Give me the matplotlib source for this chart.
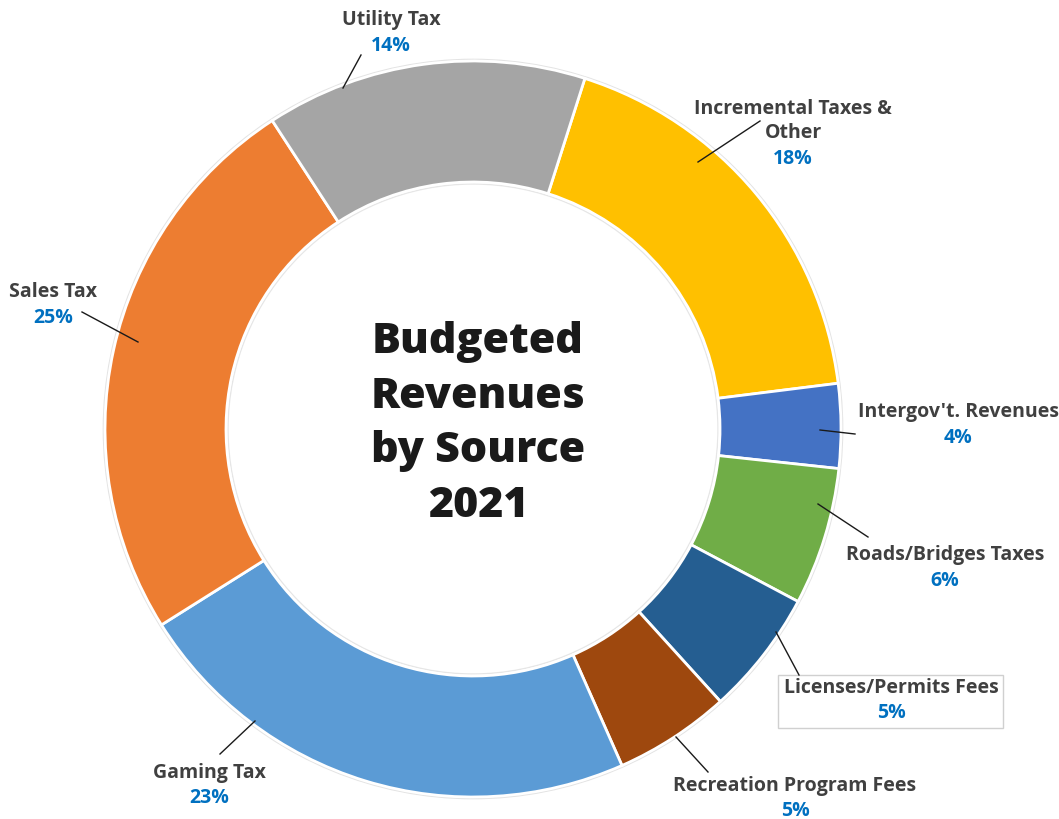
import matplotlib
matplotlib.use("Agg")
import matplotlib.pyplot as plt
from matplotlib.patches import Circle, FancyBboxPatch

categories = ["Incremental Taxes &\nOther", "Intergov't. Revenues", "Roads/Bridges Taxes",
              "Licenses/Permits Fees", "Recreation Program Fees", "Gaming Tax",
              "Sales Tax", "Utility Tax"]
values = [18.1, 3.7, 6.05, 5.5, 5.1, 22.7, 24.75, 14.1]
pct_labels = ["18%", "4%", "6%", "5%", "5%", "23%", "25%", "14%"]
colors = ["#FFC000", "#4472C4", "#70AD47", "#255E91", "#9E480E", "#5B9BD5", "#ED7D31", "#A5A5A5"]
title = "Budgeted\nRevenues\nby Source\n2021"

W, H = 1059, 820
fig = plt.figure(figsize=(W / 100, H / 100), dpi=100)
ax = fig.add_axes([0, 0, 1, 1])

cx, cy, R, Rin = 473, H - 430, 368, 247
ax.add_patch(Circle((cx, cy), R + 1.5, facecolor="none", edgecolor="#e3e3e3", lw=1.2, zorder=1))
ax.add_patch(Circle((cx, cy), Rin - 2, facecolor="none", edgecolor="#e6e6e6", lw=1.0, zorder=1))
ax.pie(values, colors=colors, startangle=90 - 17.7, counterclock=False,
       center=(cx, cy), radius=R,
       wedgeprops=dict(width=R - Rin, edgecolor="white", linewidth=2), frame=True)
ax.set_xlim(0, W)
ax.set_ylim(0, H)
ax.set_aspect("equal")
ax.axis("off")

fam = ["Open Sans", "DejaVu Sans"]
ax.text(cx + 5, H - 424, title, ha="center", va="center", fontsize=31, fontweight="heavy",
        color="#1a1a1a", family=fam, linespacing=1.4)

# label layout: (name text center x, name y, pct y, line from (x,y) to (x,y)) in image pixel coords
layout = [
    (793, 121, 159, (698, 163), (760, 122)),
    (958, 412, 438, (820, 431), (855, 435)),
    (945, 555, 581, (818, 505), (868, 538)),
    (891, 688, 713, (776, 633), (799, 676)),
    (795, 786, 811, (676, 738), (708, 773)),
    (209, 773, 798, (255, 722), (220, 755)),
    (53, 292, 318, (138, 343), (82, 313)),
    (391, 20, 46, (343, 89), (361, 56)),
]
for name, pct, (x, ny, py, p1, p2) in zip(categories, pct_labels, layout):
    ax.text(x, H - ny, name, ha="center", va="center", fontsize=14, fontweight="bold",
            color="#404040", family=fam, linespacing=1.2, zorder=5)
    ax.text(x, H - py, pct, ha="center", va="center", fontsize=14, fontweight="bold",
            color="#0070C0", family=fam, zorder=5)
    ax.plot([p1[0], p2[0]], [H - p1[1], H - p2[1]], color="#1a1a1a", lw=1, zorder=4)

# boxed label for Licenses/Permits Fees
ax.add_patch(FancyBboxPatch((778, H - 729), 225, 53, boxstyle="square,pad=0",
                            facecolor="white", edgecolor="#d0d0d0", lw=1, zorder=3))

fig.savefig("out.png", dpi=100)
